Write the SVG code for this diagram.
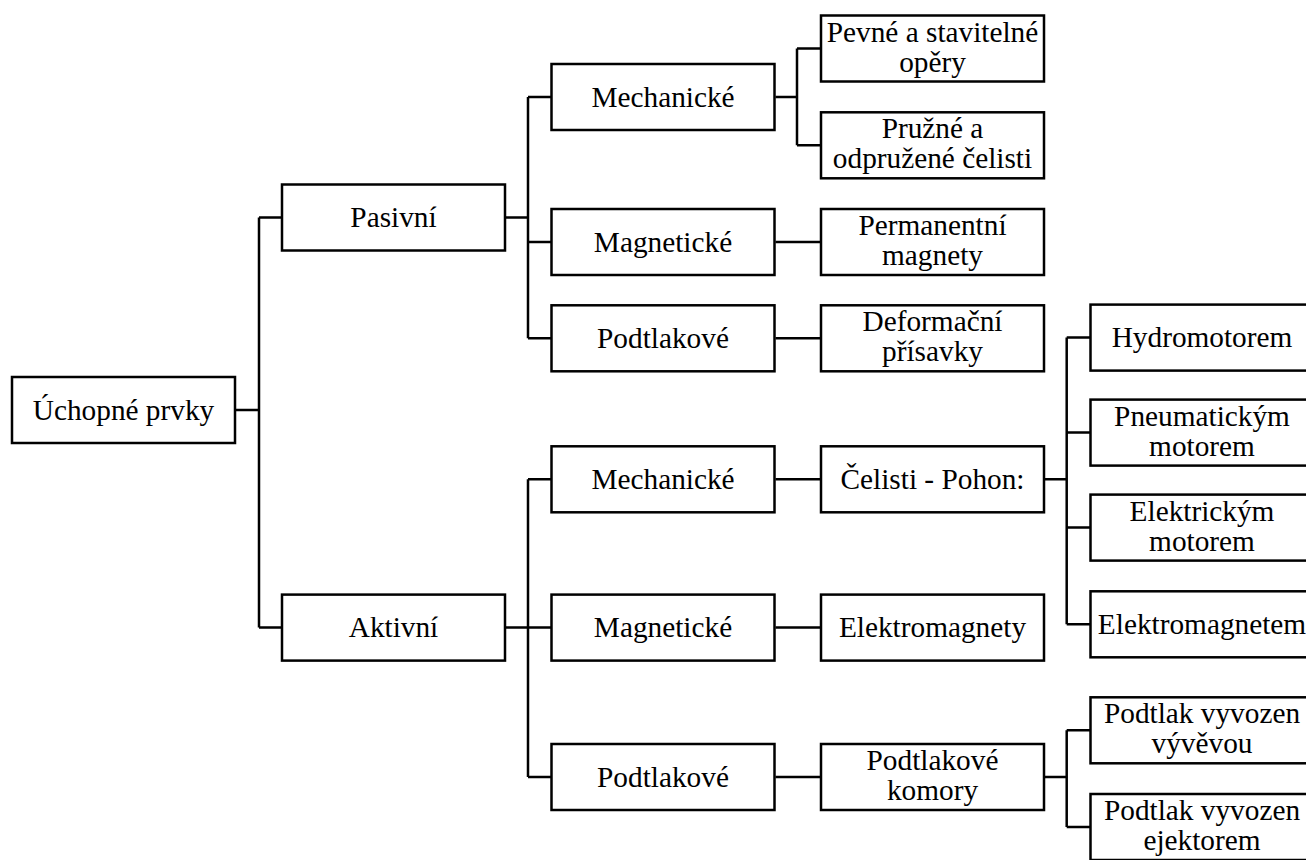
<svg xmlns="http://www.w3.org/2000/svg" width="1306" height="860" viewBox="0 0 1306 860">
<style>
.b{fill:#fff;stroke:#000;stroke-width:2.5}
.c{fill:none;stroke:#000;stroke-width:2.5}
</style>
<rect width="1306" height="860" fill="#fff"/>
<g id="connectors">
<path class="c" d="M236 410H259M259 217.5V627.6M259 217.5H282M259 627.6H282"/>
<path class="c" d="M506 217.5H528M528 97V338.3M528 97H551M528 242H551M528 338.3H551"/>
<path class="c" d="M775.5 97H797M797 48.5V145.3M797 48.5H820M797 145.3H820"/>
<path class="c" d="M775.5 242H820M775.5 338.3H820"/>
<path class="c" d="M506 627.6H528M528 479.3V777M528 479.3H551M528 627.6H551M528 777H551"/>
<path class="c" d="M775.5 479.3H820M775.5 627.6H820M775.5 777H820"/>
<path class="c" d="M1045 479.3H1066.7M1066.7 337.6V624.3M1066.7 337.6H1090M1066.7 432.6H1090M1066.7 527.6H1090M1066.7 624.3H1090"/>
<path class="c" d="M1045 777H1066.7M1066.7 730.3V827M1066.7 730.3H1090M1066.7 827H1090"/>
</g>
<g id="n-uchopne"><rect class="b" x="12" y="377" width="223" height="66"/><text font-family="Liberation Serif" font-size="29.3" text-anchor="middle" x="123.5" y="419.5">Úchopné prvky</text></g>
<g id="n-pasivni"><rect class="b" x="282" y="184.5" width="223" height="66"/><text font-family="Liberation Serif" font-size="29.3" text-anchor="middle" x="393.5" y="227">Pasivní</text></g>
<g id="n-aktivni"><rect class="b" x="282" y="594.6" width="223" height="66"/><text font-family="Liberation Serif" font-size="29.3" text-anchor="middle" x="393.5" y="637.1">Aktivní</text></g>
<g id="n-p-mech"><rect class="b" x="551.5" y="64" width="223" height="66"/><text font-family="Liberation Serif" font-size="29.3" text-anchor="middle" x="663" y="106.5">Mechanické</text></g>
<g id="n-p-mag"><rect class="b" x="551.5" y="209" width="223" height="66"/><text font-family="Liberation Serif" font-size="29.3" text-anchor="middle" x="663" y="251.5">Magnetické</text></g>
<g id="n-p-podt"><rect class="b" x="551.5" y="305.3" width="223" height="66"/><text font-family="Liberation Serif" font-size="29.3" text-anchor="middle" x="663" y="347.8">Podtlakové</text></g>
<g id="n-a-mech"><rect class="b" x="551.5" y="446.3" width="223" height="66"/><text font-family="Liberation Serif" font-size="29.3" text-anchor="middle" x="663" y="488.8">Mechanické</text></g>
<g id="n-a-mag"><rect class="b" x="551.5" y="594.6" width="223" height="66"/><text font-family="Liberation Serif" font-size="29.3" text-anchor="middle" x="663" y="637.1">Magnetické</text></g>
<g id="n-a-podt"><rect class="b" x="551.5" y="744" width="223" height="66"/><text font-family="Liberation Serif" font-size="29.3" text-anchor="middle" x="663" y="786.5">Podtlakové</text></g>
<g id="n-pevne"><rect class="b" x="821" y="15.5" width="223" height="66"/><text font-family="Liberation Serif" font-size="29.3" text-anchor="middle" x="932.5" y="41.5">Pevné a stavitelné</text><text font-family="Liberation Serif" font-size="29.3" text-anchor="middle" x="932.5" y="71.5">opěry</text></g>
<g id="n-pruzne"><rect class="b" x="821" y="112.3" width="223" height="66"/><text font-family="Liberation Serif" font-size="29.3" text-anchor="middle" x="932.5" y="138.3">Pružné a</text><text font-family="Liberation Serif" font-size="29.3" text-anchor="middle" x="932.5" y="168.3">odpružené čelisti</text></g>
<g id="n-permanentni"><rect class="b" x="821" y="209" width="223" height="66"/><text font-family="Liberation Serif" font-size="29.3" text-anchor="middle" x="932.5" y="235">Permanentní</text><text font-family="Liberation Serif" font-size="29.3" text-anchor="middle" x="932.5" y="265">magnety</text></g>
<g id="n-deformacni"><rect class="b" x="821" y="305.3" width="223" height="66"/><text font-family="Liberation Serif" font-size="29.3" text-anchor="middle" x="932.5" y="331.3">Deformační</text><text font-family="Liberation Serif" font-size="29.3" text-anchor="middle" x="932.5" y="361.3">přísavky</text></g>
<g id="n-celisti"><rect class="b" x="821" y="446.3" width="223" height="66"/><text font-family="Liberation Serif" font-size="29.3" text-anchor="middle" x="932.5" y="488.8">Čelisti - Pohon:</text></g>
<g id="n-elektromagnety"><rect class="b" x="821" y="594.6" width="223" height="66"/><text font-family="Liberation Serif" font-size="29.3" text-anchor="middle" x="932.5" y="637.1">Elektromagnety</text></g>
<g id="n-komory"><rect class="b" x="821" y="744" width="223" height="66"/><text font-family="Liberation Serif" font-size="29.3" text-anchor="middle" x="932.5" y="770">Podtlakové</text><text font-family="Liberation Serif" font-size="29.3" text-anchor="middle" x="932.5" y="800">komory</text></g>
<g id="n-hydro"><rect class="b" x="1090.5" y="304.6" width="223" height="66"/><text font-family="Liberation Serif" font-size="29.3" text-anchor="middle" x="1202" y="347.1">Hydromotorem</text></g>
<g id="n-pneu"><rect class="b" x="1090.5" y="399.6" width="223" height="66"/><text font-family="Liberation Serif" font-size="29.3" text-anchor="middle" x="1202" y="425.6">Pneumatickým</text><text font-family="Liberation Serif" font-size="29.3" text-anchor="middle" x="1202" y="455.6">motorem</text></g>
<g id="n-elek"><rect class="b" x="1090.5" y="494.6" width="223" height="66"/><text font-family="Liberation Serif" font-size="29.3" text-anchor="middle" x="1202" y="520.6">Elektrickým</text><text font-family="Liberation Serif" font-size="29.3" text-anchor="middle" x="1202" y="550.6">motorem</text></g>
<g id="n-emag"><rect class="b" x="1090.5" y="591.3" width="223" height="66"/><text font-family="Liberation Serif" font-size="29.3" text-anchor="middle" x="1202" y="633.8">Elektromagnetem</text></g>
<g id="n-vyveva"><rect class="b" x="1090.5" y="697.3" width="223" height="66"/><text font-family="Liberation Serif" font-size="29.3" text-anchor="middle" x="1202" y="723.3">Podtlak vyvozen</text><text font-family="Liberation Serif" font-size="29.3" text-anchor="middle" x="1202" y="753.3">vývěvou</text></g>
<g id="n-ejektor"><rect class="b" x="1090.5" y="794" width="223" height="66"/><text font-family="Liberation Serif" font-size="29.3" text-anchor="middle" x="1202" y="820">Podtlak vyvozen</text><text font-family="Liberation Serif" font-size="29.3" text-anchor="middle" x="1202" y="850">ejektorem</text></g>
</svg>
